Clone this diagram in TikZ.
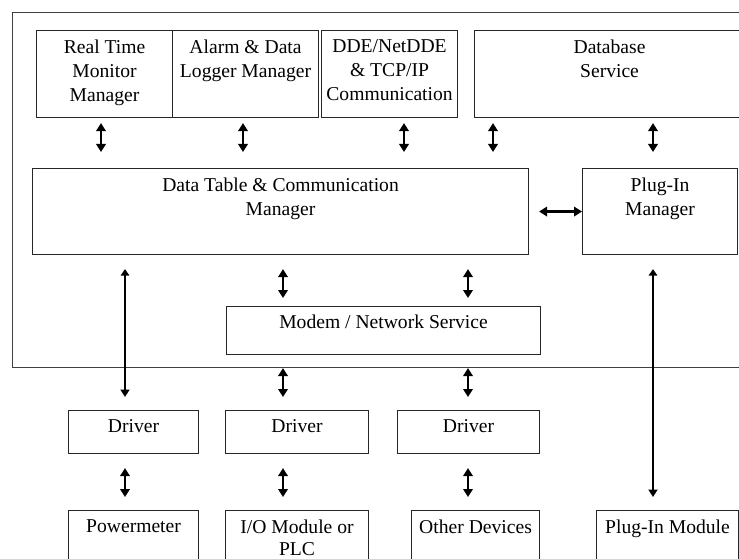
\documentclass[tikz,border=0pt]{standalone}
\usepackage{fontspec}
\setmainfont{Liberation Serif}
\usetikzlibrary{arrows.meta}

\begin{document}
\begin{tikzpicture}[x=1pt,y=-1pt,
  blk/.style 2 args={draw=black!85, line width=1.1pt, anchor=north west,
    inner sep=0pt, minimum width=#1, minimum height=#2},
  lbl/.style={anchor=north, align=center, inner sep=0pt,
    font=\fontsize{19.6}{24}\selectfont, yshift=-9.5pt},
  link/.style={line width=2.8pt,
    {Triangle[length=8pt,width=9.5pt]}-{Triangle[length=8pt,width=9.5pt]}},
  longlink/.style={line width=2.8pt,
    {Triangle[length=6.5pt,width=8.5pt]}-{Triangle[length=7.5pt,width=9pt]}},
]
\useasboundingbox (0,0) rectangle (739,559);
\begin{scope}
\clip (0,0) rectangle (739,559);

% software frame
\node[blk={735}{355}, draw=black!75, line width=1.3pt] (frame) at (12,12) {};

% top row of services
\node[blk={136}{87}] (rt)  at (36,30)  {};
\node[blk={146}{87}] (al)  at (172,30) {};
\node[blk={136}{87}] (dde) at (321,30) {};
\node[blk={270}{87}] (db)  at (474,30) {};

% managers
\node[blk={496}{86}] (dt) at (32,168)  {};
\node[blk={155}{86}] (pm) at (582,168) {};
\node[blk={314}{48}] (mn) at (226,306) {};

% drivers
\node[blk={130}{43}] (d1) at (68,410)  {};
\node[blk={143}{43}] (d2) at (225,410) {};
\node[blk={142}{43}] (d3) at (397,410) {};

% devices
\node[blk={130}{60}] (pw) at (68,510)  {};
\node[blk={143}{60}] (io) at (225,510) {};
\node[blk={128}{60}] (od) at (411,510) {};
\node[blk={142}{60}] (pi) at (596,510) {};

% labels
\node[lbl] (rt-t)  at (rt.north)  {Real Time\\Monitor\\Manager};
\node[lbl] (al-t)  at (al.north)  {Alarm \& Data\\Logger Manager};
\node[lbl] (dde-t) at (dde.north) {DDE/NetDDE\\\& TCP/IP\\Communication};
\node[lbl] (db-t)  at (db.north)  {Database\\Service};
\node[lbl] (dt-t)  at (dt.north)  {Data Table \& Communication\\Manager};
\node[lbl] (pm-t)  at (pm.north)  {Plug-In\\Manager};
\node[lbl, yshift=1pt] (mn-t) at (mn.north) {Modem / Network Service};
\node[lbl] (d1-t)  at (d1.north)  {Driver};
\node[lbl] (d2-t)  at (d2.north)  {Driver};
\node[lbl] (d3-t)  at (d3.north)  {Driver};
\node[lbl] (pw-t)  at (pw.north)  {Powermeter};
\node[lbl, font=\fontsize{19.6}{22}\selectfont] (io-t) at (io.north) {I/O Module or\\PLC};
\node[lbl] (od-t)  at (od.north)  {Other Devices};
\node[lbl] (pi-t)  at (pi.north)  {Plug-In Module};

% connector columns
\coordinate (c1) at (101,0);
\coordinate (c2) at (243,0);
\coordinate (c3) at (404,0);
\coordinate (c4) at (493,0);
\coordinate (c5) at (653,0);
\coordinate (c6) at (125,0);
\coordinate (c7) at (283,0);
\coordinate (c8) at (468,0);

% services <-> data table / plug-in manager
\begin{scope}[shorten <=5pt, shorten >=16pt]
\draw[link] (rt.south -| c1)  -- (dt.north -| c1);
\draw[link] (al.south -| c2)  -- (dt.north -| c2);
\draw[link] (dde.south -| c3) -- (dt.north -| c3);
\draw[link] (db.south -| c4)  -- (dt.north -| c4);
\draw[link] (db.south -| c5)  -- (pm.north -| c5);
\end{scope}

% data table <-> plug-in manager
\draw[link, shorten <=10pt] (dt.east) -- (pm.west);

% data table <-> modem / network service
\draw[link, shorten <=14pt, shorten >=8pt] (dt.south -| c7) -- (mn.north -| c7);
\draw[link, shorten <=14pt, shorten >=8pt] (dt.south -| c8) -- (mn.north -| c8);

% long links
\draw[longlink, shorten <=14pt, shorten >=13pt] (dt.south -| c6) -- (d1.north -| c6);
\draw[longlink, shorten <=14pt, shorten >=13pt] (pm.south -| c5) -- (pi.north -| c5);

% modem / network service <-> drivers
\draw[link, shorten <=13pt, shorten >=13pt] (mn.south -| c7) -- (d2.north -| c7);
\draw[link, shorten <=13pt, shorten >=13pt] (mn.south -| c8) -- (d3.north -| c8);

% drivers <-> devices
\draw[link, shorten <=14pt, shorten >=13pt] (d1.south -| c6) -- (pw.north -| c6);
\draw[link, shorten <=14pt, shorten >=13pt] (d2.south -| c7) -- (io.north -| c7);
\draw[link, shorten <=14pt, shorten >=13pt] (d3.south -| c8) -- (od.north -| c8);

\end{scope}
\end{tikzpicture}
\end{document}
